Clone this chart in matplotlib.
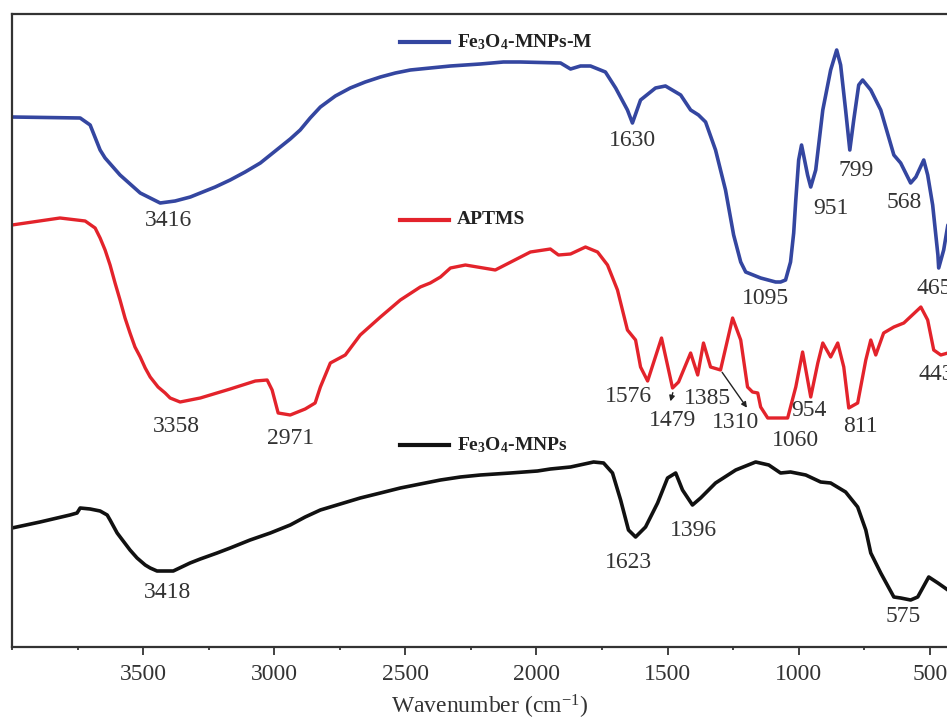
import matplotlib
matplotlib.use("Agg")
import matplotlib.pyplot as plt
from matplotlib.ticker import MultipleLocator

plt.rcParams["font.family"] = ["Liberation Serif", "DejaVu Serif"]
plt.rcParams["mathtext.default"] = "regular"

# wavenumber (cm-1) and signal (arbitrary units, offset traces, larger = lower on the plot)
wn_m = [4000, 3740, 3702, 3664, 3645, 3588, 3511, 3435, 3378, 3320, 3282, 3225, 3168,
        3111, 3053, 3015, 2977, 2939, 2901, 2863, 2824, 2767, 2710, 2653, 2595, 2538,
        2481, 2405, 2328, 2214, 2126, 2061, 1908, 1870, 1832, 1794,
        1737, 1698, 1653, 1634, 1603, 1546, 1508, 1450, 1412, 1382, 1355, 1317, 1279,
        1248, 1221, 1202, 1145, 1088, 1069, 1050, 1031, 1019, 1011, 1000, 989, 966,
        954, 935, 908, 878, 855, 840, 821, 805, 790, 771, 756, 725, 687, 637, 611, 573,
        553, 523, 508, 489, 469, 466, 447, 431]
sig_m = [117, 118, 125, 150, 158, 175, 193, 203, 201, 197, 193, 187, 180,
         172, 163, 155, 147, 139, 130, 118, 107, 96, 88, 82, 77, 73,
         70, 68, 66, 64, 62, 62, 63, 69, 66, 66,
         72, 88, 110, 123, 100, 88, 86, 95, 110, 115, 122, 150, 190,
         235, 262, 272, 278, 282, 282, 280, 262, 233, 200, 160, 145, 175,
         187, 170, 110, 70, 50, 65, 110, 150, 120, 85, 80, 90, 110, 155, 163, 183,
         177, 160, 175, 205, 255, 268, 250, 225]

wn_ap = [4000, 3817, 3721, 3683, 3664, 3645, 3626, 3607, 3588, 3569, 3550, 3531, 3511,
         3492, 3473, 3443, 3416, 3397, 3359, 3282, 3168,
         3072, 3027, 3008, 2985, 2939, 2882, 2844, 2824, 2786, 2729, 2672, 2595, 2519,
         2443, 2405, 2366, 2328, 2271, 2157, 2023, 1947, 1916, 1870, 1813, 1767, 1729,
         1691, 1653, 1622, 1603, 1576, 1523, 1481, 1458, 1412, 1385, 1363, 1336, 1298,
         1252, 1221, 1195, 1176, 1156, 1145, 1118, 1042, 1011, 985, 954, 927, 908, 878,
         851, 828, 809, 775, 744, 725, 706, 676, 637, 599, 534, 508, 485, 458, 431]
sig_ap = [225, 218, 221, 228, 238, 250, 265, 283, 300, 318, 333, 347, 357,
          368, 377, 387, 393, 398, 402, 398, 389,
          381, 380, 390, 413, 415, 409, 403, 387, 363, 355, 335, 317, 300,
          287, 283, 277, 268, 265, 270, 252, 249, 255, 254, 247, 252, 265,
          290, 330, 340, 367, 381, 338, 388, 382, 353, 375, 343, 367, 370,
          318, 340, 387, 392, 393, 407, 418, 418, 387, 352, 397, 363, 343, 357,
          343, 367, 408, 403, 360, 340, 355, 333, 327, 323, 307, 320, 350, 355, 353]

wn_np = [4000, 3893, 3779, 3752, 3740, 3702, 3664, 3637, 3626, 3599, 3576, 3550, 3523,
         3492, 3473, 3447, 3385, 3321, 3282, 3218, 3168, 3092, 3015, 2939, 2882, 2824,
         2748, 2672, 2595, 2519, 2443, 2366, 2290, 2214, 2099, 1996, 1947, 1870, 1782,
         1744, 1710, 1679, 1649, 1622, 1584, 1538, 1500, 1469, 1443, 1405, 1374, 1317,
         1240, 1164, 1114, 1069, 1031, 973, 916, 878, 821, 775, 744, 725, 687, 637, 611,
         573, 546, 504, 469, 431]
sig_np = [528, 522, 515, 513, 508, 509, 511, 515, 520, 533, 541, 550, 558,
          565, 568, 571, 571, 563, 559, 553, 548, 540, 533, 525, 517, 510,
          504, 498, 493, 488, 484, 480, 477, 475, 473, 471, 469, 467, 462,
          463, 473, 500, 530, 537, 527, 503, 478, 473, 490, 505, 498, 483,
          470, 462, 465, 473, 472, 475, 482, 483, 492, 507, 530, 553, 573, 597, 598,
          600, 597, 577, 583, 590]

# peak labels: text, wavenumber position, signal position
peaks_m = [("3416", 3405, 220), ("1630", 1634, 140), ("1095", 1126, 298), ("951", 878, 208),
           ("799", 782, 170), ("568", 599, 202), ("465", 485, 288)]
peaks_ap = [("3358", 3374, 427), ("2971", 2939, 438), ("1576", 1649, 397), ("1479", 1481, 420),
            ("1385", 1347, 398), ("1310", 1240, 422), ("1060", 1011, 440), ("954", 962, 410),
            ("811", 763, 427), ("443", 477, 375)]
peaks_np = [("3418", 3408, 593), ("1623", 1649, 562), ("1396", 1401, 530), ("575", 603, 617)]

c_blue = "#3446a0"
c_red = "#e3232b"
c_black = "#111111"
c_text = "#333333"

fig = plt.figure(figsize=(9.47, 7.24), dpi=100)
ax = fig.add_axes([12 / 947, 1 - 647 / 724, 944 / 947, 633 / 724])

ax.plot(wn_m, sig_m, color=c_blue, lw=2.6, solid_joinstyle="round", solid_capstyle="round")
ax.plot(wn_ap, sig_ap, color=c_red, lw=2.4, solid_joinstyle="round", solid_capstyle="round")
ax.plot(wn_np, sig_np, color=c_black, lw=2.6, solid_joinstyle="round", solid_capstyle="round")

for txt, x, y in peaks_m + peaks_ap + peaks_np:
    ax.text(x, y, txt, ha="center", va="center", fontsize=17, color=c_text, clip_on=False)

# small arrows to 1479 and 1310
ax.annotate("", xy=(1492, 404), xytext=(1477, 390),
            arrowprops=dict(arrowstyle="-|>", color="#222222", lw=1.0, mutation_scale=8))
ax.annotate("", xy=(1191, 410), xytext=(1298, 370),
            arrowprops=dict(arrowstyle="-|>", color="#222222", lw=1.0, mutation_scale=8))

# legend drawn next to each trace
legend_items = [("Fe$_3$O$_4$-MNPs-M", c_blue, 0.956),
                ("APTMS", c_red, 0.675),
                ("Fe$_3$O$_4$-MNPs", c_black, 0.319)]
for name, col, yy in legend_items:
    ax.plot([0.411, 0.463], [yy, yy], color=col, lw=3, transform=ax.transAxes)
    ax.text(0.471, yy, name, transform=ax.transAxes, ha="left", va="center",
            fontsize=14, fontweight="bold", color="#222222")

ax.set_xlim(4000, 400)
ax.set_ylim(647, 14)
ax.xaxis.set_minor_locator(MultipleLocator(250))
ax.set_xticks([3500, 3000, 2500, 2000, 1500, 1000, 500])
ax.tick_params(axis="x", which="major", direction="out", length=6, width=1.3,
               labelsize=17, labelcolor=c_text, pad=6, color="#333333")
ax.tick_params(axis="x", which="minor", direction="out", length=2.5, width=1.3, color="#333333")
ax.set_yticks([])
for s in ["left", "top", "bottom"]:
    ax.spines[s].set_linewidth(1.6)
    ax.spines[s].set_color("#333333")
ax.spines["right"].set_visible(False)

ax.set_xlabel("Wavenumber (cm$^{-1}$)", fontsize=17, color=c_text)
ax.xaxis.label.set_verticalalignment("center")
ax.xaxis.set_label_coords((490 - 12) / 944, -(707 - 647) / 633)

fig.savefig("out.png", dpi=100)
plt.close(fig)
